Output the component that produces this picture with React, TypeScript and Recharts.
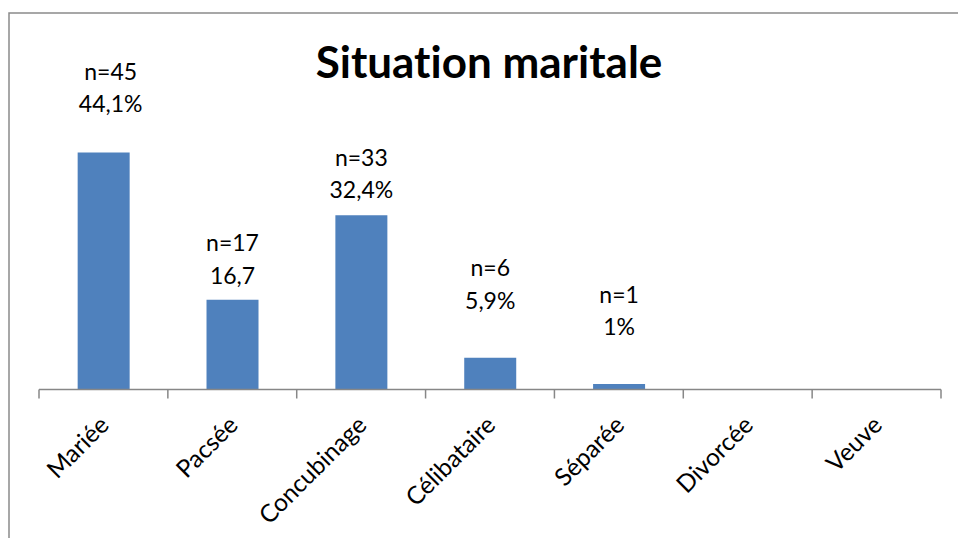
import React from "react";
import { BarChart, Bar, XAxis, YAxis, LabelList } from "recharts";

const categories = ["Mariée", "Pacsée", "Concubinage", "Célibataire", "Séparée", "Divorcée", "Veuve"];
const percents = [44.1, 16.7, 32.4, 5.9, 1, 0, 0];
const counts = [45, 17, 33, 6, 1, 0, 0];
const percentLabels = ["44,1%", "16,7", "32,4%", "5,9%", "1%", "", ""];

// label placement as dragged in the original (gap above bar top, horizontal shift)
const labelGap = [49, 25, 26, 58, 58, 0, 0];
const labelShift = [7, 0, 0, 0, 0, 0, 0];

const data = categories.map((c, i) => ({
  name: c,
  pct: percents[i],
  n: counts[i],
  label: percentLabels[i],
}));

const FONT = "Lato, 'Open Sans', sans-serif";
const NO_LIGA = { fontFeatureSettings: '"liga" 0, "clig" 0', fontVariantLigatures: "none" } as any;

const BarLabel = (props: any) => {
  const { x, y, width, index } = props;
  const d = data[index];
  if (!d || !d.label) return null;
  const cx = x + width / 2 + labelShift[index];
  const line2 = y - labelGap[index];
  return (
    <g fontFamily={FONT} fontSize={23} fill="#000">
      <text x={cx} y={line2 - 32.5} textAnchor="middle" dominantBaseline="central">
        {"n=" + d.n}
      </text>
      <text x={cx} y={line2} textAnchor="middle" dominantBaseline="central">
        {d.label}
      </text>
    </g>
  );
};

const CategoryTick = (props: any) => {
  const { x, y, payload, index, visibleTicksCount } = props;
  const half = payload && payload.offset ? payload.offset : 64.4;
  const axisY = y - 8;
  const tx = x + 7;
  const ty = axisY + 37;
  return (
    <g>
      <line x1={x - half} y1={axisY} x2={x - half} y2={axisY + 9} stroke="#878787" strokeWidth={1.5} />
      {index === visibleTicksCount - 1 && (
        <line x1={x + half} y1={axisY} x2={x + half} y2={axisY + 9} stroke="#878787" strokeWidth={1.5} />
      )}
      <text
        x={tx}
        y={ty}
        transform={`rotate(-45, ${tx}, ${ty})`}
        textAnchor="end"
        fontFamily={FONT}
        fontSize={24.5}
        fill="#000"
        style={NO_LIGA}
      >
        {payload.value}
      </text>
    </g>
  );
};

export default function App() {
  return (
    <div style={{ position: "fixed", left: 0, top: 0, width: 958, height: 538, background: "#fff" }}>
      <BarChart
        width={958}
        height={538}
        data={data}
        margin={{ top: 120.7, right: 17, bottom: 8.5, left: 39 }}
        barCategoryGap="30%"
      >
        <XAxis
          dataKey="name"
          interval={0}
          height={140}
          axisLine={{ stroke: "#878787", strokeWidth: 1.5 }}
          tickLine={false}
          tick={<CategoryTick />}
        />
        <YAxis hide domain={[0, 50]} />
        <Bar dataKey="pct" fill="#4f81bd" isAnimationActive={false}>
          <LabelList dataKey="pct" content={<BarLabel />} />
        </Bar>
      </BarChart>
      <svg
        width={958}
        height={538}
        style={{ position: "absolute", left: 0, top: 0, pointerEvents: "none" }}
      >
        <polyline points="9,540 9,13 960,13" fill="none" stroke="#8a8a8a" strokeWidth={1.5} />
        <text
          x={489}
          y={77.5}
          textAnchor="middle"
          fontFamily={FONT}
          fontWeight="bold"
          fontSize={44}
          fill="#000"
          style={NO_LIGA}
        >
          Situation maritale
        </text>
      </svg>
    </div>
  );
}
